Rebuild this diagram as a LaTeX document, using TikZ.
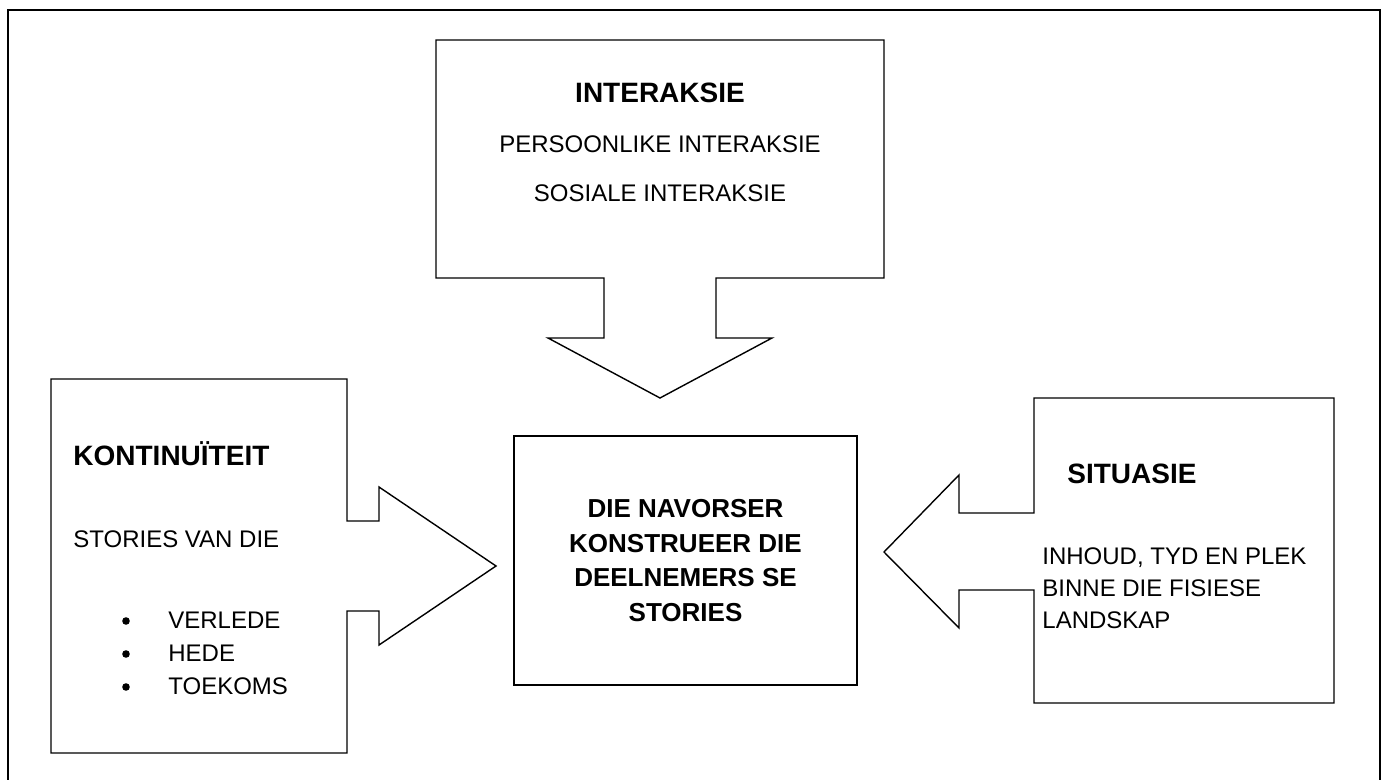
\documentclass[tikz,border=0pt]{standalone}
\usepackage{fontspec}
\setmainfont{Liberation Sans}
\usetikzlibrary{positioning}

\begin{document}
\begin{tikzpicture}[
    x=0.5pt, y=-0.5pt,
    callout/.style={draw, line width=0.7pt, line join=miter},
    heading/.style={font=\fontsize{14}{17}\selectfont\bfseries, inner sep=0pt},
    body/.style={font=\fontsize{12}{16}\selectfont, inner sep=0pt, align=left},
    dot/.style={circle, fill, inner sep=0pt, minimum size=3.8pt}
]
\useasboundingbox (0,0) rectangle (1386,780);

% Outer frame
\draw[line width=1pt] (8,780) -- (8,10) -- (1380,10) -- (1380,780);

% Callout shapes (box with arrow)
\draw[callout] (436,40) -- (884,40) -- (884,278) -- (716,278) -- (716,338) -- (772,338)
    -- (660,398) -- (548,338) -- (604,338) -- (604,278) -- (436,278) -- cycle;
\draw[callout] (51,379) -- (347,379) -- (347,521) -- (379,521) -- (379,487) -- (496,566)
    -- (379,645) -- (379,611) -- (347,611) -- (347,753) -- (51,753) -- cycle;
\draw[callout] (1034,398) -- (1334,398) -- (1334,703) -- (1034,703) -- (1034,590) -- (959,590)
    -- (959,628) -- (884,552) -- (959,475) -- (959,513) -- (1034,513) -- cycle;

% Centre box
\node[callout, minimum width=171.5pt, minimum height=124.5pt, align=center,
      font=\fontsize{13}{17.3}\selectfont\bfseries] (navorser) at (685.5,560.5)
     {DIE NAVORSER\\KONSTRUEER DIE\\DEELNEMERS SE\\STORIES};

% Interaksie
\node[heading, anchor=base] (interaksie) at (660,103) {INTERAKSIE};
\node[body, anchor=base] (persoonlik) at (660,153) {PERSOONLIKE INTERAKSIE};
\node[body, anchor=base] (sosiaal) at (660,202) {SOSIALE INTERAKSIE};

% Kontinuiteit
\node[heading, anchor=base west] (kontinuiteit) at (73,466) {KONTINUÏTEIT};
\node[body, anchor=base west] (stories) at (73,547) {STORIES VAN DIE};
\foreach \word [count=\i] in {VERLEDE,HEDE,TOEKOMS} {
    \node[dot] (bullet\i) at (126,588+33*\i) {};
    \node[body, anchor=base west] (tyd\i) at (168,595+33*\i) {\word};
}

% Situasie
\node[heading, anchor=base west] (situasie) at (1067,483) {SITUASIE};
\node[body, anchor=base west] (inhoud) at (1042,628) {INHOUD, TYD EN PLEK\\BINNE DIE FISIESE\\LANDSKAP};

\end{tikzpicture}
\end{document}
